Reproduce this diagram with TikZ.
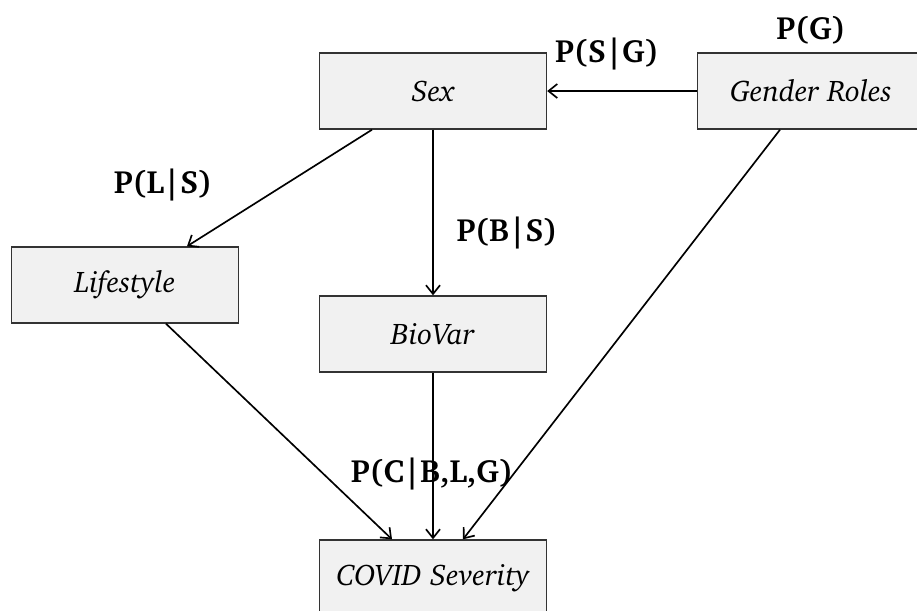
\documentclass[tikz,border=0pt]{standalone}
\usepackage[T1]{fontenc}
\usepackage{charter}
\usepackage{tikz}
\usetikzlibrary{arrows.meta}

\definecolor{boxfill}{HTML}{F1F1F1}
\definecolor{boxline}{HTML}{333333}

\begin{document}
\begin{tikzpicture}[x=0.02cm, y=-0.02cm,
  box/.style={draw=boxline, rectangle, fill=boxfill, line width=0.8pt,
              minimum width=4.54cm, minimum height=1.52cm,
              text centered, font=\fontsize{17}{20}\selectfont\itshape},
  prob/.style={font=\fontsize{18.3}{21}\selectfont\bfseries},
  arr/.style={-{Straight Barb[length=5pt,width=8pt]}, line width=0.95pt}
]
  \clip (0,0) rectangle (917,610);
  \node[box] (sex)  at (433, 91)  {Sex};
  \node[box] (gen)  at (811, 91)  {Gender Roles};
  \node[box] (life) at (125,285)  {Lifestyle};
  \node[box] (bio)  at (433,334)  {BioVar};
  \node[box] (cov)  at (433,578)  {COVID Severity};
  % probability labels
  \node[prob] (pg)  at (811, 30)  {P(G)};
  \node[prob] (psg) at (607, 54)  {P(S\textbar G)};
  \node[prob] (pls) at (163,185)  {P(L\textbar S)};
  \node[prob] (pbs) at (507,233)  {P(B\textbar S)};
  \node[prob] (pc)  at (432,474)  {P(C\textbar B,L,G)};
  % edges
  \draw[arr] (gen.west) -- (sex.east);
  \draw[arr] ([xshift=-1.22cm]sex.south) -- ([xshift=1.24cm]life.north);
  \draw[arr] (sex.south) -- (bio.north);
  \draw[arr] ([xshift=0.82cm]life.south) -- ([xshift=-0.82cm]cov.north);
  \draw[arr] (bio.south) -- (cov.north);
  \draw[arr] ([xshift=-0.62cm]gen.south) -- ([xshift=0.6cm]cov.north);
\end{tikzpicture}
\end{document}
